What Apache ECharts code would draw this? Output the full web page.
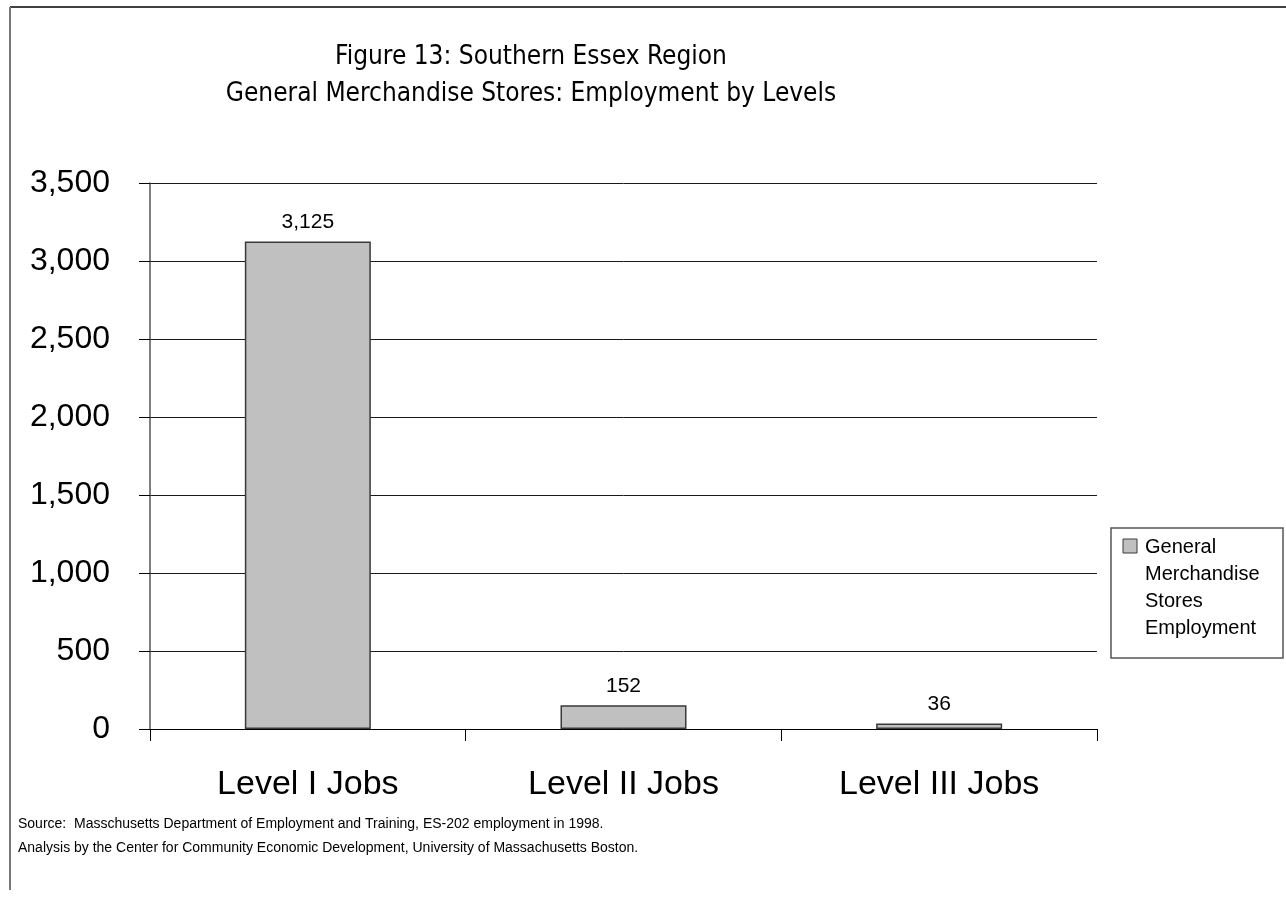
<!DOCTYPE html>
<html>
<head>
<meta charset="utf-8">
<script src="https://cdn.jsdelivr.net/npm/echarts@6/dist/echarts.min.js"></script>
<style>
  html, body { margin: 0; padding: 0; background: #fff; }
  #chart { width: 1286px; height: 899px; }
</style>
</head>
<body>
<div id="chart"></div>
<script>
// Employment by job level, general merchandise stores, Southern Essex region (1998)
const categories = ['Level I Jobs', 'Level II Jobs', 'Level III Jobs'];
const employment = [3125, 152, 36];
const seriesName = 'General Merchandise Stores Employment';
const legendLines = ['General', 'Merchandise', 'Stores', 'Employment'];
const titleLines = ['Figure 13: Southern Essex Region', 'General Merchandise Stores: Employment by Levels'];
const sourceLines = [
  'Source:  Masschusetts Department of Employment and Training, ES-202 employment in 1998.',
  'Analysis by the Center for Community Economic Development, University of Massachusetts Boston.'
];
const yTicks = { min: 0, max: 3500, step: 500 };

const fmt = v => Number(v).toLocaleString('en-US');

const chart = echarts.init(document.getElementById('chart'), null, { renderer: 'canvas' });
const sans = '"Liberation Sans", Arial, sans-serif';
const titleFont = '26px "DejaVu Sans Condensed", "DejaVu Sans", sans-serif';

chart.setOption({
  backgroundColor: '#ffffff',
  animation: false,
  grid: { left: 150, right: 189, top: 183, bottom: 170, containLabel: false },
  xAxis: {
    type: 'category',
    data: categories,
    axisLine: { lineStyle: { color: '#000', width: 1 } },
    axisTick: { show: true, length: 12, lineStyle: { color: '#000' } },
    axisLabel: { color: '#000', fontFamily: sans, fontSize: 34, margin: 39 }
  },
  yAxis: {
    type: 'value',
    min: yTicks.min, max: yTicks.max, interval: yTicks.step,
    axisLine: { show: true, lineStyle: { color: '#555', width: 1.5 } },
    axisTick: { show: true, length: 11, lineStyle: { color: '#000' } },
    axisLabel: { color: '#000', fontFamily: sans, fontSize: 32, margin: 40, formatter: fmt },
    splitLine: { show: true, lineStyle: { color: '#1a1a1a', width: 1 } }
  },
  series: [{
    name: seriesName,
    type: 'bar',
    data: employment,
    barWidth: 126,
    itemStyle: { color: '#c0c0c0', borderColor: '#3a3a3a', borderWidth: 1.5 },
    label: {
      show: true, position: 'top', distance: 9,
      color: '#000', fontFamily: sans, fontSize: 21,
      formatter: p => fmt(p.value)
    }
  }],
  graphic: [
    // chart frame (top and left edges)
    { type: 'line', shape: { x1: 10, y1: 7, x2: 1286, y2: 7 }, style: { stroke: '#000', lineWidth: 1.5 } },
    { type: 'line', shape: { x1: 10, y1: 7, x2: 10, y2: 890 }, style: { stroke: '#777', lineWidth: 2 } },
    // title
    { type: 'text', x: 531, y: 57, style: { text: titleLines[0], font: titleFont, fill: '#000', textAlign: 'center', textVerticalAlign: 'middle' } },
    { type: 'text', x: 531, y: 94, style: { text: titleLines[1], font: titleFont, fill: '#000', textAlign: 'center', textVerticalAlign: 'middle' } },
    // legend
    { type: 'rect', shape: { x: 1111, y: 528, width: 172, height: 130 }, style: { fill: '#fff', stroke: '#555', lineWidth: 1.5 } },
    { type: 'rect', shape: { x: 1123, y: 539, width: 14, height: 14 }, style: { fill: '#c0c0c0', stroke: '#3a3a3a', lineWidth: 1 } },
    { type: 'text', x: 1145, y: 534, style: { text: legendLines.join('\n'), font: '20px ' + sans, lineHeight: 27, fill: '#000' } },
    // source notes
    { type: 'text', x: 18, y: 824, style: { text: sourceLines[0], font: '14px ' + sans, fill: '#000', textVerticalAlign: 'middle' } },
    { type: 'text', x: 18, y: 848, style: { text: sourceLines[1], font: '14px ' + sans, fill: '#000', textVerticalAlign: 'middle' } }
  ]
});
</script>
</body>
</html>
